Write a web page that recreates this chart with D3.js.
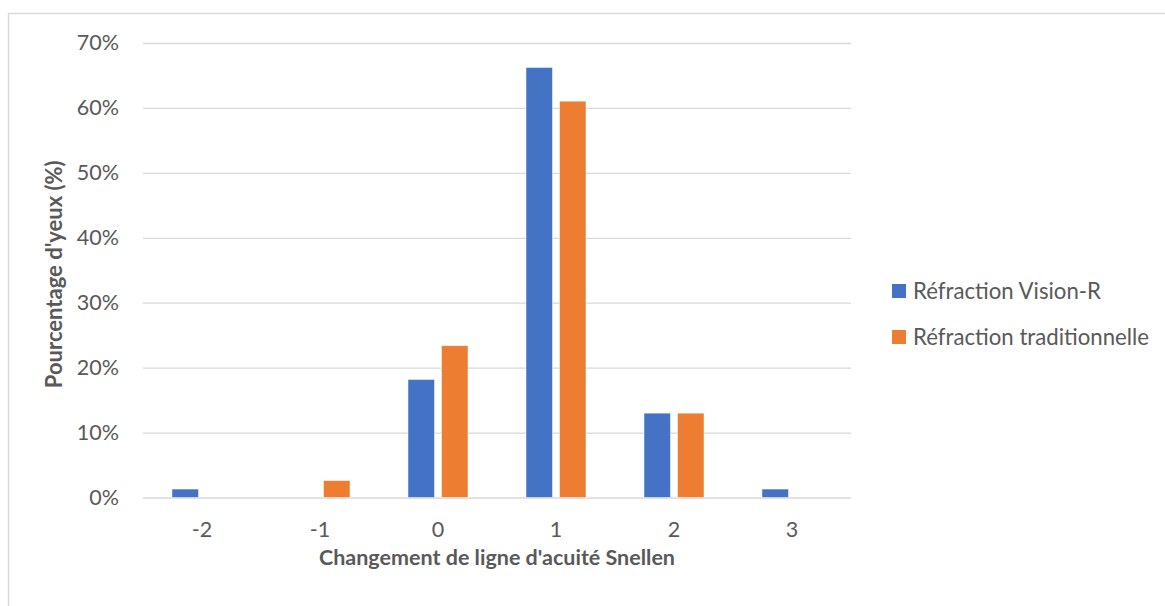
<!DOCTYPE html>
<html>
<head>
<meta charset="utf-8">
<script src="https://cdn.jsdelivr.net/npm/d3@7"></script>
<style>
  html, body { margin: 0; padding: 0; background: #ffffff; }
  svg { display: block; font-family: Lato, "Open Sans", sans-serif; }
</style>
</head>
<body>
<svg id="chart" width="1165" height="606"></svg>
<script>
// Change in Snellen acuity lines, share of eyes per refraction method
const categories = ["-2", "-1", "0", "1", "2", "3"];
const seriesNames = ["Réfraction Vision-R", "Réfraction traditionnelle"];
const visionR = [1.30, 0, 18.18, 66.23, 12.99, 1.30];
const traditionnelle = [0, 2.60, 23.38, 61.04, 12.99, 0];
const yTicks = [0, 10, 20, 30, 40, 50, 60, 70];
const xTitle = "Changement de ligne d'acuité Snellen";
const yTitle = "Pourcentage d'yeux (%)";

const colors = ["#4472C4", "#ED7D31"];
const textColor = "#595959";
const gridColor = "#d9d9d9";

const plot = { left: 143, right: 851, top: 43, bottom: 497.5 };

const svg = d3.select("#chart");

// outer chart frame
svg.append("rect")
  .attr("x", 8.5).attr("y", 13.5)
  .attr("width", 1300).attr("height", 800)
  .attr("fill", "#ffffff")
  .attr("stroke", gridColor).attr("stroke-width", 1.5);

const x = d3.scaleBand().domain(categories).range([plot.left, plot.right]);
const groupWidth = 60;
const inner = d3.scaleBand()
  .domain(seriesNames)
  .range([x.bandwidth() / 2 - groupWidth / 2, x.bandwidth() / 2 + groupWidth / 2])
  .paddingInner(0.21);
const y = d3.scaleLinear().domain([0, 70]).range([plot.bottom, plot.top]);

// y axis with gridlines
const yAxis = svg.append("g")
  .attr("transform", `translate(${plot.left},0)`)
  .call(d3.axisLeft(y)
    .tickValues(yTicks)
    .tickFormat(d => d + "%")
    .tickSize(-(plot.right - plot.left))
    .tickPadding(24));
yAxis.select(".domain").remove();
yAxis.selectAll(".tick line").attr("stroke", gridColor).attr("stroke-width", 1.3);
yAxis.selectAll(".tick text")
  .attr("fill", textColor)
  .attr("font-size", 21.5)
  .attr("font-family", "Lato, sans-serif");

// x axis labels
const xAxis = svg.append("g")
  .attr("transform", `translate(0,${plot.bottom})`)
  .call(d3.axisBottom(x).tickSize(0).tickPadding(24));
xAxis.select(".domain").remove();
xAxis.selectAll(".tick text")
  .attr("fill", textColor)
  .attr("font-size", 21.5)
  .attr("font-family", "Lato, sans-serif");

// bars
const series = [visionR, traditionnelle];
const groups = svg.append("g").selectAll("g")
  .data(series)
  .join("g")
  .attr("fill", (d, i) => colors[i]);

groups.each(function (values, si) {
  d3.select(this).selectAll("rect")
    .data(values.map((v, ci) => ({ v, c: categories[ci] })).filter(d => d.v > 0))
    .join("rect")
    .attr("x", d => x(d.c) + inner(seriesNames[si]))
    .attr("width", inner.bandwidth())
    .attr("y", d => y(d.v))
    .attr("height", d => y(0) - y(d.v))
    .attr("stroke", "#ffffff")
    .attr("stroke-opacity", 0.6)
    .attr("stroke-width", 0.8);
});

// axis titles
svg.append("text")
  .attr("x", (plot.left + plot.right) / 2)
  .attr("y", 565)
  .attr("text-anchor", "middle")
  .attr("font-weight", "bold")
  .attr("font-size", 21.5)
  .attr("fill", textColor)
  .text(xTitle);

svg.append("text")
  .attr("transform", `translate(62,${(plot.top + plot.bottom) / 2 + 4}) rotate(-90)`)
  .attr("text-anchor", "middle")
  .attr("font-weight", "bold")
  .attr("font-size", 22)
  .attr("fill", textColor)
  .text(yTitle);

// legend
const legend = svg.append("g").attr("transform", "translate(892,291)");
const rows = legend.selectAll("g")
  .data(seriesNames)
  .join("g")
  .attr("transform", (d, i) => `translate(0,${i * 46})`);
rows.append("rect")
  .attr("x", 0).attr("y", -7)
  .attr("width", 14).attr("height", 14)
  .attr("fill", (d, i) => colors[i]);
rows.append("text")
  .attr("x", 21)
  .attr("dy", "0.35em")
  .attr("font-size", 22.2)
  .attr("fill", textColor)
  .text(d => d);
</script>
</body>
</html>
